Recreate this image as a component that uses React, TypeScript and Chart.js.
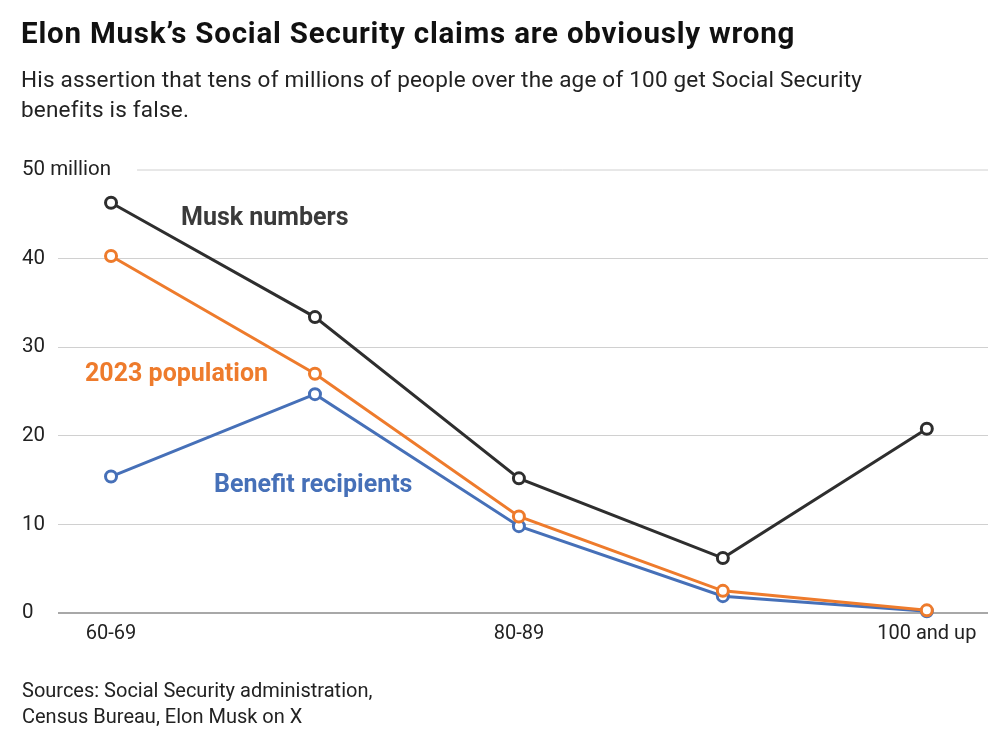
import React, { useEffect, useRef } from 'react';
import { Chart, registerables } from 'chart.js';

Chart.register(...registerables);

const categories = ['60-69', '70-79', '80-89', '90-99', '100 and up'];
const shownXLabels = ['60-69', '', '80-89', '', '100 and up'];
const muskNumbers = [46.3, 33.4, 15.2, 6.2, 20.8];
const population2023 = [40.3, 27.0, 10.9, 2.5, 0.3];
const benefitRecipients = [15.4, 24.7, 9.8, 1.9, 0.2];
const yTicks = [0, 10, 20, 30, 40, 50];
const yTickLabels = ['0', '10', '20', '30', '40', '50 million'];

const MUSK = '#2e2e2e';
const ORANGE = '#ee7b2c';
const BLUE = '#4670b8';
const FONT = 'Roboto, "Liberation Sans", Arial, sans-serif';

const yLabelPlugin = {
  id: 'yLabels',
  beforeDatasetsDraw(chart: any) {
    const ctx = chart.ctx;
    const y = chart.scales.y;
    ctx.save();
    ctx.font = '20.5px ' + FONT;
    const topPy = y.getPixelForValue(50);
    const w = ctx.measureText(yTickLabels[5]).width;
    ctx.strokeStyle = '#d0d0d0';
    ctx.lineWidth = 1;
    ctx.beginPath();
    ctx.moveTo(22 + w + 26, topPy);
    ctx.lineTo(chart.chartArea.right, topPy);
    ctx.stroke();
    ctx.restore();
  },
  afterDraw(chart: any) {
    const ctx = chart.ctx;
    const y = chart.scales.y;
    ctx.save();
    ctx.font = '20.5px ' + FONT;
    ctx.fillStyle = '#222';
    ctx.textAlign = 'left';
    ctx.textBaseline = 'middle';
    yTicks.forEach((v, i) => {
      ctx.fillText(yTickLabels[i], 22, y.getPixelForValue(v));
    });
    ctx.restore();
  },
};

function mkDataset(label: string, values: number[], color: string) {
  return {
    label,
    data: values.map((v, i) => ({ x: i, y: v })),
    borderColor: color,
    backgroundColor: '#fff',
    pointBackgroundColor: '#fff',
    pointBorderColor: color,
    pointBorderWidth: 3,
    pointRadius: 5.5,
    borderWidth: 3,
    tension: 0,
    clip: false as any,
  };
}

export default function App() {
  const canvasRef = useRef<HTMLCanvasElement | null>(null);

  useEffect(() => {
    if (!canvasRef.current) return;
    const chart = new Chart(canvasRef.current, {
      type: 'line',
      data: {
        datasets: [
          mkDataset('Musk numbers', muskNumbers, MUSK),
          mkDataset('2023 population', population2023, ORANGE),
          mkDataset('Benefit recipients', benefitRecipients, BLUE),
        ],
      },
      options: {
        animation: false,
        responsive: true,
        maintainAspectRatio: false,
        layout: { padding: { left: 58, right: 12, top: 170, bottom: 92 } },
        plugins: { legend: { display: false }, tooltip: { enabled: false }, title: { display: false } },
        scales: {
          x: {
            type: 'linear',
            min: -0.26,
            max: 4.3,
            grid: { display: false },
            border: { display: false },
            afterBuildTicks: (scale: any) => {
              scale.ticks = categories.map((_, i) => ({ value: i }));
            },
            ticks: {
              autoSkip: false,
              maxRotation: 0,
              padding: 1,
              color: '#222',
              font: { family: FONT, size: 20 },
              callback: (v: any) => shownXLabels[Math.round(Number(v))] ?? '',
            },
          },
          y: {
            min: 0,
            max: 50,
            afterFit: (scale: any) => {
              scale.width = 0;
            },
            afterBuildTicks: (scale: any) => {
              scale.ticks = yTicks.map((v) => ({ value: v }));
            },
            border: { display: false },
            ticks: { display: false },
            grid: {
              drawTicks: false,
              color: (c: any) => (c.tick && c.tick.value === 0 ? '#a8a8a8' : c.tick && c.tick.value === 50 ? 'rgba(0,0,0,0)' : '#d0d0d0'),
              lineWidth: (c: any) => (c.tick && c.tick.value === 0 ? 2 : 1),
            },
          },
        },
      } as any,
      plugins: [yLabelPlugin],
    });
    return () => chart.destroy();
  }, []);

  const abs = (extra: React.CSSProperties): React.CSSProperties => ({ position: 'absolute', whiteSpace: 'nowrap', ...extra });

  return (
    <div style={{ position: 'fixed', left: 0, top: 0, width: 1000, height: 739, background: '#fff', fontFamily: FONT }}>
      <canvas ref={canvasRef} style={{ position: 'absolute', left: 0, top: 0, width: 1000, height: 739 }} />
      <div style={abs({ left: 21, top: 16, fontSize: 29.5, lineHeight: '34px', fontWeight: 700, letterSpacing: 0.8, color: '#111' })}>
        Elon Musk’s Social Security claims are obviously wrong
      </div>
      <div style={abs({ left: 21, top: 64, fontSize: 22.5, lineHeight: '30px', letterSpacing: 0.2, color: '#222' })}>
        His assertion that tens of millions of people over the age of 100 get Social Security
        <br />
        benefits is false.
      </div>
      <div style={abs({ left: 181, top: 202, fontSize: 25, lineHeight: '30px', fontWeight: 700, color: '#3a3a3a' })}>Musk numbers</div>
      <div style={abs({ left: 85, top: 358, fontSize: 25, lineHeight: '30px', fontWeight: 700, color: ORANGE })}>2023 population</div>
      <div style={abs({ left: 214, top: 469, fontSize: 25, lineHeight: '30px', fontWeight: 700, color: BLUE })}>Benefit recipients</div>
      <div style={abs({ left: 22, top: 677, fontSize: 20, lineHeight: '26px', color: '#222' })}>
        Sources: Social Security administration,
        <br />
        Census Bureau, Elon Musk on X
      </div>
    </div>
  );
}
